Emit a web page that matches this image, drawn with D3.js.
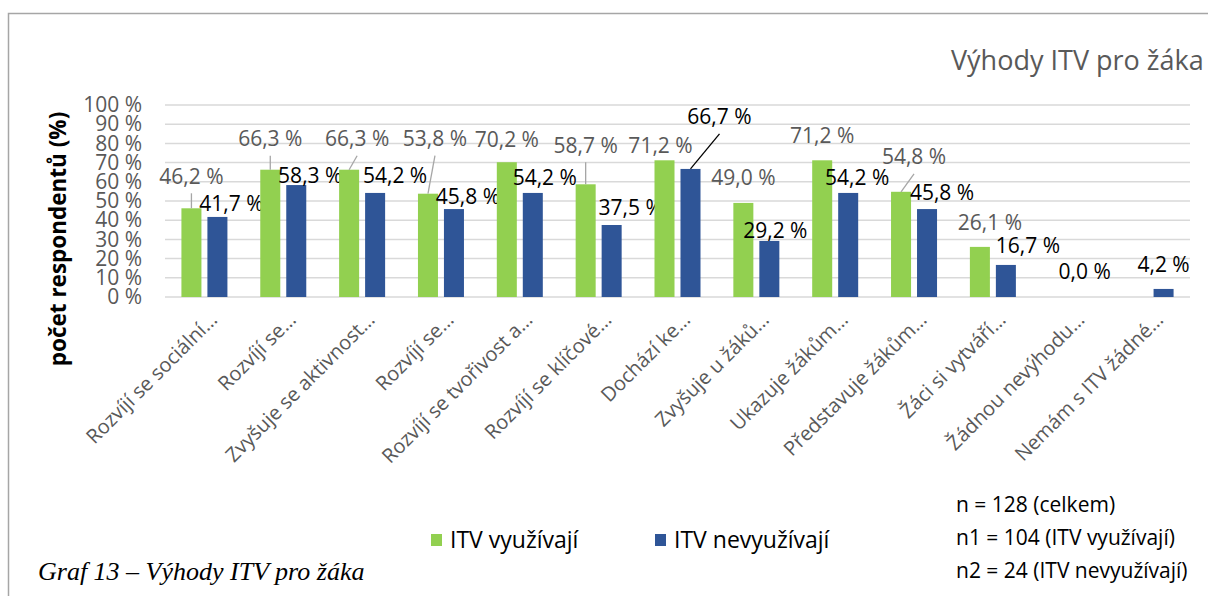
<!DOCTYPE html>
<html>
<head>
<meta charset="utf-8">
<script src="https://cdn.jsdelivr.net/npm/d3@7"></script>
<style>
  body { margin: 0; background: #fff; }
  svg { display: block; font-family: "Open Sans", sans-serif; }
</style>
</head>
<body>
<svg width="1208" height="596"></svg>
<script>
// data
const categories = [
  "Rozvíjí se sociální…", "Rozvíjí se…", "Zvyšuje se aktivnost…", "Rozvíjí se…",
  "Rozvíjí se tvořivost a…", "Rozvíjí se klíčové…", "Dochází ke…", "Zvyšuje u žáků…",
  "Ukazuje žákům…", "Představuje žákům…", "Žáci si vytváří…", "Žádnou nevýhodu…",
  "Nemám s ITV žádné…"
];
const seriesNames = ["ITV využívají", "ITV nevyužívají"];
const usingValues = [46.2, 66.3, 66.3, 53.8, 70.2, 58.7, 71.2, 49.0, 71.2, 54.8, 26.1, null, null];
const notUsingValues = [41.7, 58.3, 54.2, 45.8, 54.2, 37.5, 66.7, 29.2, 54.2, 45.8, 16.7, 0.0, 4.2];
const yTicks = [0, 10, 20, 30, 40, 50, 60, 70, 80, 90, 100];
const sampleNotes = ["n = 128 (celkem)", "n1 = 104 (ITV využívají)", "n2 = 24 (ITV nevyužívají)"];

// label placement (dx, dy from bar top, leader line?) - labels were dragged by hand in the original
const usingLabelShift = [
  [0, -32, true], [0, -31, true], [8, -31, true], [7, -55, true], [0, -23, false],
  [0, -39, true], [-4, -15, false], [0, -25, false], [0, -25, false], [13, -35, true],
  [10, -24, false], [0, 0, false], [0, 0, false]
];
const notUsingLabelShift = [
  [14, -13, false], [14, -9, false], [20, -17, false], [14, -12, false], [12, -15, false],
  [19, -17, false], [29, -52, true], [6, -10, false], [9, -15, false], [15, -16, false],
  [22, -19, false], [0, -25, false], [0, -24, false]
];

const colors = ["#92d050", "#2f5597"];
const labelColors = ["#595959", "#000000"];
const leaderColors = ["#a6a6a6", "#000000"];

const data = categories.map((c, i) => ({
  category: c,
  values: [usingValues[i], notUsingValues[i]],
  shifts: [usingLabelShift[i], notUsingLabelShift[i]]
}));

const svg = d3.select("svg");
const plot = {left: 165, right: 1190, top: 105, bottom: 297};

// frame
svg.append("path")
  .attr("d", "M8.5,596 V13.5 H1208")
  .attr("fill", "none")
  .attr("stroke", "#a6a6a6")
  .attr("stroke-width", 1.5);

const x0 = d3.scaleBand().domain(d3.range(categories.length)).range([plot.left, plot.right]);
const x1 = d3.scaleBand().domain([0, 1])
  .range([x0.bandwidth() / 2 - 23, x0.bandwidth() / 2 + 23])
  .paddingInner(0.23);
const y = d3.scaleLinear().domain([0, 100]).range([plot.bottom, plot.top]);

const fmt = v => d3.format(".1f")(v).replace(".", ",") + " %";

// gridlines
svg.append("g").selectAll("line")
  .data(yTicks)
  .enter().append("line")
    .attr("x1", plot.left)
    .attr("x2", plot.right)
    .attr("y1", d => y(d))
    .attr("y2", d => y(d))
    .attr("stroke", "#d9d9d9")
    .attr("stroke-width", 1.5);

// y axis
const yAxis = svg.append("g")
  .attr("transform", `translate(${plot.left},0)`)
  .call(d3.axisLeft(y).tickValues(yTicks).tickSize(0).tickPadding(23).tickFormat(d => d + " %"));
yAxis.select(".domain").remove();
yAxis.selectAll("text")
  .attr("fill", "#595959")
  .style("font-size", "21px")
  .style("font-family", "'Open Sans', sans-serif");

svg.append("text")
  .attr("transform", "translate(66,239) rotate(-90)")
  .attr("text-anchor", "middle")
  .style("font-size", "22.5px")
  .style("font-weight", "bold")
  .attr("fill", "#000")
  .text("počet respondentů (%)");

// bars
const groups = svg.append("g").selectAll("g")
  .data(data)
  .enter().append("g")
    .attr("transform", (d, i) => `translate(${x0(i)},0)`);

groups.selectAll("rect")
  .data(d => d.values.map((v, s) => ({v: v, s: s})).filter(e => e.v !== null))
  .enter().append("rect")
    .attr("x", d => x1(d.s))
    .attr("y", d => y(d.v))
    .attr("width", x1.bandwidth())
    .attr("height", d => plot.bottom - y(d.v))
    .attr("fill", d => colors[d.s]);

// leader lines + data labels
const labels = groups.selectAll("g.lab")
  .data(d => d.values.map((v, s) => ({v: v, s: s, shift: d.shifts[s]})).filter(e => e.v !== null))
  .enter().append("g")
    .attr("class", "lab");

labels.filter(d => d.shift[2]).append("line")
  .attr("x1", d => x1(d.s) + x1.bandwidth() / 2 + d.shift[0])
  .attr("y1", d => y(d.v) + d.shift[1] + 17)
  .attr("x2", d => x1(d.s) + x1.bandwidth() / 2)
  .attr("y2", d => y(d.v))
  .attr("stroke", d => leaderColors[d.s])
  .attr("stroke-width", 1.3);

labels.append("text")
  .attr("x", d => x1(d.s) + x1.bandwidth() / 2 + d.shift[0])
  .attr("y", d => y(d.v) + d.shift[1])
  .attr("dy", "0.35em")
  .attr("text-anchor", "middle")
  .style("font-size", "21px")
  .attr("fill", d => labelColors[d.s])
  .text(d => fmt(d.v));

// category labels
svg.append("g").selectAll("text")
  .data(categories)
  .enter().append("text")
    .attr("transform", (d, i) => `translate(${x0(i) + x0.bandwidth() / 2 + 14},321) rotate(-45)`)
    .attr("text-anchor", "end")
    .style("font-size", "20px")
    .attr("fill", "#595959")
    .text(d => d);

// title
svg.append("text")
  .attr("x", 951)
  .attr("y", 70)
  .style("font-size", "27px")
  .attr("fill", "#595959")
  .text("Výhody ITV pro žáka");

// legend
const legend = svg.append("g").selectAll("g")
  .data(seriesNames)
  .enter().append("g")
    .attr("transform", (d, i) => `translate(${i === 0 ? 431 : 655},540)`);
legend.append("rect")
  .attr("x", 0).attr("y", -6)
  .attr("width", 11).attr("height", 12)
  .attr("fill", (d, i) => colors[i]);
legend.append("text")
  .attr("x", 19)
  .attr("dy", "0.35em")
  .style("font-size", "23px")
  .attr("fill", "#000")
  .text(d => d);

// sample sizes
svg.append("g").selectAll("text")
  .data(sampleNotes)
  .enter().append("text")
    .attr("x", 956)
    .attr("y", (d, i) => 505 + i * 33)
    .attr("dy", "0.35em")
    .style("font-size", "21px")
    .attr("fill", "#000")
    .text(d => d);

// caption
svg.append("text")
  .attr("x", 38)
  .attr("y", 580)
  .style("font-family", "'Liberation Serif', 'Times New Roman', serif")
  .style("font-style", "italic")
  .style("font-size", "26px")
  .attr("fill", "#000")
  .text("Graf 13 – Výhody ITV pro žáka");
</script>
</body>
</html>
